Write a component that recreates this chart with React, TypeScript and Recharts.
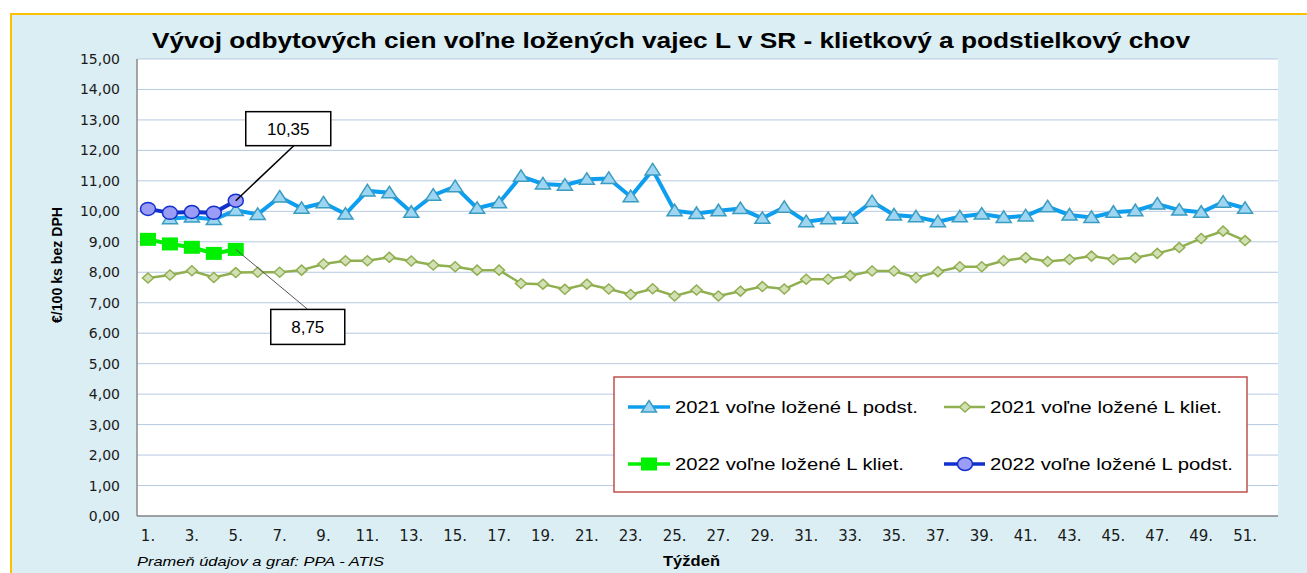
import React from 'react';
import { LineChart, Line, XAxis, YAxis, CartesianGrid } from 'recharts';

const weeks = ['1.', '2.', '3.', '4.', '5.', '6.', '7.', '8.', '9.', '10.', '11.', '12.', '13.', '14.', '15.', '16.', '17.', '18.', '19.', '20.', '21.', '22.', '23.', '24.', '25.', '26.', '27.', '28.', '29.', '30.', '31.', '32.', '33.', '34.', '35.', '36.', '37.', '38.', '39.', '40.', '41.', '42.', '43.', '44.', '45.', '46.', '47.', '48.', '49.', '50.', '51.', '52.'];

const podst2021: (number | null)[] = [null,
  9.76, 9.81, 9.73, 10.03, 9.90, 10.47, 10.10, 10.28, 9.91, 10.67, 10.61, 9.97, 10.53, 10.81, 10.10, 10.28, 11.15,
  10.90, 10.86, 11.05, 11.08, 10.48, 11.36, 10.02, 9.93, 10.02, 10.09, 9.77, 10.13, 9.66, 9.76, 9.77, 10.32, 9.88,
  9.82, 9.66, 9.82, 9.91, 9.80, 9.85, 10.15, 9.88, 9.80, 9.97, 10.02, 10.24, 10.04, 9.97, 10.30, 10.10,
  null];

const kliet2021: (number | null)[] = [
  7.81, 7.91, 8.05, 7.83, 7.99, 8.00, 8.00, 8.07, 8.27, 8.38, 8.38, 8.49, 8.37, 8.24, 8.18, 8.07, 8.07, 7.63,
  7.61, 7.44, 7.61, 7.45, 7.27, 7.46, 7.22, 7.42, 7.22, 7.38, 7.53, 7.45, 7.77, 7.77, 7.89, 8.04, 8.04,
  7.82, 8.02, 8.18, 8.18, 8.38, 8.48, 8.35, 8.42, 8.53, 8.42, 8.48, 8.62, 8.81, 9.11, 9.35, 9.04,
  null];

const kliet2022: number[] = [9.08, 8.93, 8.82, 8.62, 8.75];
const podst2022: number[] = [10.08, 9.95, 9.98, 9.95, 10.35];

const yTicks = [0, 1, 2, 3, 4, 5, 6, 7, 8, 9, 10, 11, 12, 13, 14, 15];

const data = weeks.map((w, i) => ({
  week: w,
  p21: podst2021[i],
  k21: kliet2021[i],
  k22: i < kliet2022.length ? kliet2022[i] : null,
  p22: i < podst2022.length ? podst2022[i] : null,
}));

const C_P21 = '#0E9EF0';
const C_P21_FILL = '#9DD5F2';
const C_P21_EDGE = '#3A9CC0';
const C_K21 = '#8FAF50';
const C_K21_FILL = '#D3E0B5';
const C_K22 = '#00F000';
const C_P22 = '#1230CC';
const C_P22_FILL = '#9A9CF5';

const fmt = (v: number) => v.toFixed(2).replace('.', ',');

const Triangle = (p: any) => {
  if (p.cx == null || p.cy == null || p.value == null) return <g key={p.key} />;
  const { cx, cy } = p;
  return <polygon key={p.key} points={`${cx},${cy - 6.5} ${cx + 7.5},${cy + 5} ${cx - 7.5},${cy + 5}`} fill={C_P21_FILL} stroke={C_P21_EDGE} strokeWidth={1.5} />;
};
const Diamond = (p: any) => {
  if (p.cx == null || p.cy == null || p.value == null) return <g key={p.key} />;
  const { cx, cy } = p;
  return <polygon key={p.key} points={`${cx},${cy - 5} ${cx + 5.5},${cy} ${cx},${cy + 5} ${cx - 5.5},${cy}`} fill={C_K21_FILL} stroke={C_K21} strokeWidth={1.5} />;
};
const Square = (p: any) => {
  if (p.cx == null || p.cy == null || p.value == null) return <g key={p.key} />;
  const { cx, cy } = p;
  return <rect key={p.key} x={cx - 8} y={cy - 6.5} width={16} height={13} fill={C_K22} />;
};
const Circle = (p: any) => {
  if (p.cx == null || p.cy == null || p.value == null) return <g key={p.key} />;
  const { cx, cy } = p;
  return <ellipse key={p.key} cx={cx} cy={cy} rx={7.5} ry={6.5} fill={C_P22_FILL} stroke={C_P22} strokeWidth={1.5} />;
};

const calloutP22 = (p: any) => {
  if (p.index !== 4 || p.x == null) return <g key={`lp-${p.index}`} />;
  const x = p.x, y = p.y;
  return (
    <g key="lp-callout">
      <line x1={x} y1={y} x2={x + 58} y2={y - 55} stroke="#000" strokeWidth={1.5} />
      <rect x={x + 10} y={y - 89} width={85} height={34} fill="#fff" stroke="#000" strokeWidth={1.5} />
      <text x={x + 52.5} y={y - 66} textAnchor="middle" fontSize={17} fontFamily="Liberation Sans, Arial, sans-serif" fill="#000">{fmt(p.value)}</text>
    </g>
  );
};

const calloutK22 = (p: any) => {
  if (p.index !== 4 || p.x == null) return <g key={`lk-${p.index}`} />;
  const x = p.x, y = p.y;
  return (
    <g key="lk-callout">
      <line x1={x} y1={y} x2={x + 72} y2={y + 60} stroke="#555" strokeWidth={1} />
      <rect x={x + 35} y={y + 60} width={74} height={35} fill="#fff" stroke="#000" strokeWidth={1.5} />
      <text x={x + 72} y={y + 83.5} textAnchor="middle" fontSize={17} fontFamily="Liberation Sans, Arial, sans-serif" fill="#000">{fmt(p.value)}</text>
    </g>
  );
};

const FONT = 'Liberation Sans, Arial, sans-serif';

export default function App() {
  return (
    <div style={{ position: 'fixed', left: 0, top: 0, width: 1307, height: 573, background: '#fff', overflow: 'hidden' }}>
      <div style={{ position: 'absolute', left: 10, top: 13, width: 1297, height: 560, background: '#DAEEF3', borderLeft: '2px solid #FFC000', borderTop: '2px solid #FFC000', boxSizing: 'border-box' }} />
      <div style={{ position: 'absolute', left: 0, top: 0 }}>
        <LineChart width={1307} height={573} data={data} margin={{ top: 59, right: 29, bottom: 0, left: 77 }}>
          <CartesianGrid vertical={false} stroke="#B7C9E2" strokeWidth={1} fill="#ffffff" />
          <XAxis dataKey="week" interval={1} tickLine={false} tickSize={0} tickMargin={14} padding={{ left: 11, right: 11 }}
            axisLine={{ stroke: '#8A8A8A', strokeWidth: 1.5 }}
            tick={{ fontSize: 15, fill: '#1a1a1a', fontFamily: 'DejaVu Sans, sans-serif' }} height={57} />
          <YAxis domain={[0, 15]} ticks={yTicks} interval={0} width={60} tickLine={false} tickSize={0} tickMargin={17}
            tickFormatter={fmt} axisLine={{ stroke: '#8A8A8A', strokeWidth: 1.5 }}
            tick={{ fontSize: 14, fill: '#1a1a1a', fontFamily: 'DejaVu Sans, sans-serif' }} />
          <Line dataKey="k21" stroke={C_K21} strokeWidth={2.5} dot={Diamond} isAnimationActive={false} connectNulls={false} />
          <Line dataKey="p21" stroke={C_P21} strokeWidth={4} dot={Triangle} isAnimationActive={false} connectNulls={false} />
          <Line dataKey="k22" stroke={C_K22} strokeWidth={4} dot={Square} isAnimationActive={false} label={calloutK22} />
          <Line dataKey="p22" stroke={C_P22} strokeWidth={4} dot={Circle} isAnimationActive={false} label={calloutP22} />
        </LineChart>
      </div>
      <svg width={1307} height={573} style={{ position: 'absolute', left: 0, top: 0, pointerEvents: 'none' }}>
        <text x={152} y={48} fontSize={22} fontWeight="bold" fontFamily={FONT} fill="#000" textLength={1038} lengthAdjust="spacingAndGlyphs">Vývoj odbytových cien voľne ložených vajec L v SR - klietkový a podstielkový chov</text>
        <text transform="translate(62,265) rotate(-90)" textAnchor="middle" fontSize={14} fontWeight="bold" fontFamily={FONT} fill="#000" textLength={116} lengthAdjust="spacingAndGlyphs">€/100 ks bez DPH</text>
        <text x={137} y={566} fontSize={13} fontStyle="italic" fontFamily={FONT} fill="#000" textLength={247} lengthAdjust="spacingAndGlyphs">Prameň údajov a graf: PPA - ATIS</text>
        <text x={663} y={566} fontSize={15} fontWeight="bold" fontFamily={FONT} fill="#000" textLength={57} lengthAdjust="spacingAndGlyphs">Týždeň</text>

        <rect x={614} y={377} width={633} height={115} fill="#fff" stroke="#C0504D" strokeWidth={1.5} />
        <line x1={628} y1={407} x2={670} y2={407} stroke={C_P21} strokeWidth={3.5} />
        <polygon points="649,400.5 656.5,412 641.5,412" fill={C_P21_FILL} stroke={C_P21_EDGE} strokeWidth={1.5} />
        <text x={675} y={413} fontSize={16} fontFamily={FONT} fill="#000" textLength={243} lengthAdjust="spacingAndGlyphs">2021 voľne ložené L podst.</text>

        <line x1={944} y1={407} x2={985} y2={407} stroke={C_K21} strokeWidth={2.5} />
        <polygon points="965,402 970.5,407 965,412 959.5,407" fill={C_K21_FILL} stroke={C_K21} strokeWidth={1.5} />
        <text x={990} y={413} fontSize={16} fontFamily={FONT} fill="#000" textLength={232} lengthAdjust="spacingAndGlyphs">2021 voľne ložené L kliet.</text>

        <line x1={628} y1={464} x2={670} y2={464} stroke={C_K22} strokeWidth={3.5} />
        <rect x={641} y={457.5} width={16} height={13} fill={C_K22} />
        <text x={675} y={470} fontSize={16} fontFamily={FONT} fill="#000" textLength={229} lengthAdjust="spacingAndGlyphs">2022 voľne ložené L kliet.</text>

        <line x1={944} y1={464} x2={985} y2={464} stroke={C_P22} strokeWidth={3.5} />
        <ellipse cx={965} cy={464} rx={7.5} ry={6.5} fill={C_P22_FILL} stroke={C_P22} strokeWidth={1.5} />
        <text x={990} y={470} fontSize={16} fontFamily={FONT} fill="#000" textLength={243} lengthAdjust="spacingAndGlyphs">2022 voľne ložené L podst.</text>
      </svg>
    </div>
  );
}
